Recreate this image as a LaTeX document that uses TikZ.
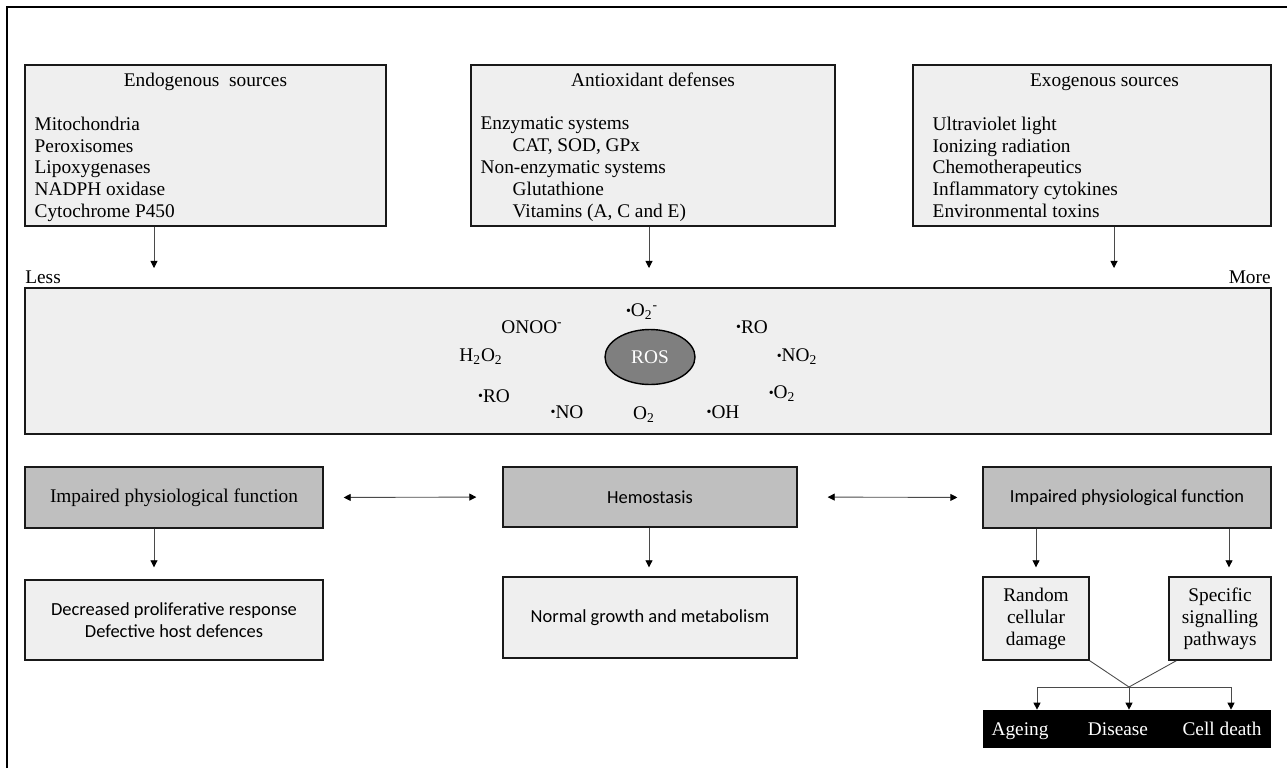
\documentclass[tikz,border=0pt]{standalone}
\usepackage{fontspec}
\setmainfont{Liberation Serif}
\newfontfamily\calfont{Carlito}
\usetikzlibrary{positioning, arrows.meta, shapes.geometric}

\definecolor{boxgray}{HTML}{EFEFEF}
\definecolor{midgray}{HTML}{BFBFBF}
\definecolor{rosgray}{HTML}{7F7F7F}
\definecolor{linegray}{HTML}{4A4A4A}

% radical dot
\newcommand{\rad}{\raisebox{0.2ex}{\fontsize{8}{8}\selectfont\textbullet}}

\begin{document}
\begin{tikzpicture}[x=0.02cm, y=-0.02cm, font=\fontsize{11}{12.5}\selectfont,
    lightbox/.style={draw=black!90, line width=0.8pt, fill=boxgray, inner sep=0pt},
    darkbox/.style={lightbox, fill=midgray},
    sanstext/.style={font=\calfont\fontsize{10.5}{12.5}\selectfont},
    arr/.style={draw=linegray, line width=0.5pt, -{Triangle[length=4pt, width=4pt, color=black]}},
    dblarr/.style={draw=linegray, line width=0.5pt, {Triangle[length=4pt, width=4pt, color=black]}-{Triangle[length=4pt, width=4pt, color=black]}},
    species/.style={inner sep=0pt}]
    \useasboundingbox (0,0) rectangle (1287,768);

    % Frame
    \draw[line width=1.4pt] (7,768) -- (7,7) -- (1287,7);

    % Top boxes
    \node[lightbox, minimum width=7.22cm, minimum height=3.22cm] (endo) at (205.5,145.5) {};
    \node[anchor=base] (endoT) at ([yshift=-0.44cm]endo.north) {Endogenous\ \ sources};
    \node[align=left, anchor=north west, inner sep=0pt] (endoL) at ([xshift=0.2cm, yshift=-1.04cm]endo.north west)
        {Mitochondria\\Peroxisomes\\Lipoxygenases\\NADPH oxidase\\Cytochrome P450};

    \node[lightbox, minimum width=7.28cm, minimum height=3.22cm] (anti) at (653,145.5) {};
    \node[anchor=base] (antiT) at ([yshift=-0.44cm]anti.north) {Antioxidant defenses};
    \node[align=left, anchor=north west, inner sep=0pt] (antiL) at ([xshift=0.2cm, yshift=-1.04cm]anti.north west)
        {Enzymatic systems\\\hspace*{0.64cm}CAT, SOD, GPx\\Non-enzymatic systems\\\hspace*{0.64cm}Glutathione\\\hspace*{0.64cm}Vitamins (A, C and E)};

    \node[lightbox, minimum width=7.16cm, minimum height=3.22cm] (exo) at (1092,145.5) {};
    \node[anchor=base] (exoT) at ([xshift=0.25cm, yshift=-0.44cm]exo.north) {Exogenous sources};
    \node[align=left, anchor=north west, inner sep=0pt] (exoL) at ([xshift=0.4cm, yshift=-1.04cm]exo.north west)
        {Ultraviolet light\\Ionizing radiation\\Chemotherapeutics\\Inflammatory cytokines\\Environmental toxins};

    % Arrows down to the ROS band
    \coordinate (endoE) at (154,268);
    \coordinate (antiE) at (649,268);
    \coordinate (exoE) at (1114,268);
    \draw[arr] (endo.south -| endoE) -- (endoE);
    \draw[arr] (anti.south -| antiE) -- (antiE);
    \draw[arr] (exo.south -| exoE) -- (exoE);

    \node[anchor=base west, inner sep=0pt] (less) at (25,283) {Less};
    \node[anchor=base east, inner sep=0pt] (more) at (1271,283) {More};

    % ROS band
    \node[lightbox, minimum width=24.92cm, minimum height=2.92cm] (band) at (648,361) {};
    \node[ellipse, draw=black, line width=0.8pt, fill=rosgray, text=white, minimum width=1.8cm,
        minimum height=1.1cm, inner sep=0pt] (ros) at (650,357) {ROS};

    \node[species] (sO2m) at (642,312) {\rad O\textsubscript{2}\textsuperscript{-}};
    \node[species] (sONOO) at (532,327) {ONOO\textsuperscript{-}};
    \node[species] (sH2O2) at (481,357) {H\textsubscript{2}O\textsubscript{2}};
    \node[species] (sROa) at (494,396) {\rad RO};
    \node[species] (sNO) at (567,412) {\rad NO};
    \node[species] (sO2) at (644,415) {O\textsubscript{2}};
    \node[species] (sOH) at (723,412) {\rad OH};
    \node[species] (sO2r) at (782,394) {\rad O\textsubscript{2}};
    \node[species] (sNO2) at (797,357) {\rad NO\textsubscript{2}};
    \node[species] (sROb) at (752,327) {\rad RO};

    % Middle row
    \node[darkbox, minimum width=5.96cm, minimum height=1.22cm] (impL) at (174,497.5) {Impaired physiological function};
    \node[darkbox, sanstext, minimum width=5.88cm, minimum height=1.2cm] (homeo) at (650,497) {Hemostasis};
    \node[darkbox, sanstext, minimum width=5.76cm, minimum height=1.22cm] (impR) at (1127,497.5) {Impaired physiological function};

    \draw[dblarr, shorten <=0.4cm, shorten >=0.52cm] (impL.east) -- (homeo.west);
    \draw[dblarr, shorten <=0.6cm, shorten >=0.5cm] (homeo.east) -- (impR.west);

    % Bottom row
    \node[lightbox, sanstext, align=center, minimum width=5.96cm, minimum height=1.6cm] (decr) at (174,620)
        {Decreased proliferative response\\Defective host defences};
    \node[lightbox, sanstext, minimum width=5.88cm, minimum height=1.62cm] (normal) at (650,617.5) {Normal growth and metabolism};
    \node[lightbox, align=center, minimum width=2.12cm, minimum height=1.66cm] (rand) at (1036,618.5) {Random\\cellular\\damage};
    \node[lightbox, align=center, minimum width=2.04cm, minimum height=1.66cm] (spec) at (1220,618.5) {Specific\\signalling\\pathways};

    \coordinate (specX) at (1229,0);
    \draw[arr, shorten >=0.24cm] (impL.south -| endoE) -- (decr.north -| endoE);
    \draw[arr, shorten >=0.18cm] (homeo.south -| antiE) -- (normal.north -| antiE);
    \draw[arr, shorten >=0.18cm] (impR.south -| rand) -- (rand.north);
    \draw[arr, shorten >=0.18cm] (impR.south -| specX) -- (spec.north -| specX);

    % Outcomes
    \node[fill=black, minimum width=5.76cm, minimum height=0.76cm, inner sep=0pt] (outc) at (1127,729) {};
    \node[text=white, anchor=base] (ageing) at (1020,735) {Ageing};
    \node[text=white, anchor=base] (disease) at (1118,735) {Disease};
    \node[text=white, anchor=base] (death) at (1222,735) {Cell death};

    \coordinate (junc) at (1129,687);
    \coordinate (jL) at (1037,687);
    \coordinate (jR) at (1231,687);
    \draw[linegray, line width=0.5pt] (rand.south east) -- (junc);
    \draw[linegray, line width=0.5pt] ([xshift=0.16cm]spec.south west) -- (junc);
    \draw[linegray, line width=0.5pt] (jL) -- (jR);
    \foreach \c in {jL, junc, jR}
        \draw[arr] (\c) -- (\c |- outc.north);
\end{tikzpicture}
\end{document}
